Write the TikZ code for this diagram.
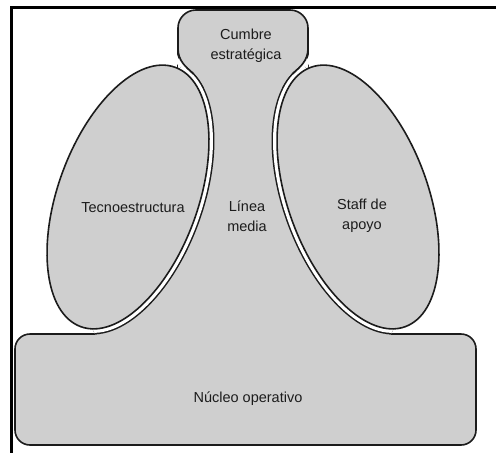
\documentclass[tikz,border=0pt]{standalone}
\usepackage{fontspec}
\setmainfont{Liberation Sans}
\definecolor{ink}{RGB}{28,28,28}
\definecolor{bodygray}{RGB}{207,207,207}

% the two tilted lobes: shift, rotation
\newcommand\lobes{128/70, 358/-70}
% black halo with a white gap just outside a lobe outline
\newcommand\lobehalos{%
  \foreach \cx/\ang in \lobes {%
    \begin{scope}[shift={(\cx,197)}, rotate=\ang]
      \draw[ink, line width=11pt] (0,0) ellipse [x radius=138, y radius=70];
      \draw[white, line width=8pt] (0,0) ellipse [x radius=138, y radius=70];
    \end{scope}}}

\begin{document}
\begin{tikzpicture}[x=1pt, y=-1pt,
  outline/.style={draw=ink, line width=1.6pt},
  body/.style={fill=bodygray},
  label/.style={text=ink, font=\fontsize{14.5}{20}\selectfont, align=center, inner sep=0pt},
  topblock/.style={insert path={[rounded corners=18pt] (178,10) rectangle (308,88)}},
  baseblock/.style={insert path={[rounded corners=15pt] (15,334) rectangle (476,445)}},
  midblock/.style={insert path={(200,40) -- (169,84) -- (85,314) -- (98,340) -- (388,340)
                                -- (401,314) -- (317,84) -- (286,40) -- cycle}},
]
\useasboundingbox (0,0) rectangle (496,453);
\fill[white] (0,0) rectangle (496,453);

% page frame
\draw[black, line width=3pt] (11,453) -- (11,7) -- (496,7);

% operating core and strategic apex
\path[body, outline, baseblock];
\path[body, outline, topblock];
% middle line joining them
\path[body, midblock];

% halos, only where a lobe borders the central body
\begin{scope}
  \clip[topblock];
  \lobehalos
\end{scope}
\begin{scope}
  \clip[midblock];
  \lobehalos
\end{scope}
\begin{scope}
  \clip[baseblock];
  \lobehalos
\end{scope}

% technostructure and support staff lobes
\foreach \cx/\ang in \lobes {
  \path[body, outline, shift={(\cx,197)}, rotate=\ang]
    (0,0) ellipse [x radius=138, y radius=70];
}

% the apex narrows into the halos with a smooth bend on each side
\foreach \s in {1,-1} {
  \begin{scope}[shift={(243,0)}, xscale=\s]
    \fill[white] (-66.5,50) .. controls (-66.5,62) and (-57,67) .. (-49.5,74)
      -- (-65,64.5) -- (-67,64.5) -- cycle;
    \draw[ink, line width=1.6pt] (-65,48) .. controls (-65,61) and (-57,67) .. (-49.5,74);
  \end{scope}
}

% labels
\node[label] (cumbre) at (246,46) {Cumbre\\estratégica};
\node[label] (linea) at (247,216) {Línea\\media};
\node[label, anchor=base] (tecno) at (133,212) {Tecnoestructura};
\node[label] (staff) at (362,216) {Staff de\\apoyo};
\node[label, anchor=base] (nucleo) at (248,402) {Núcleo operativo};
\end{tikzpicture}
\end{document}
